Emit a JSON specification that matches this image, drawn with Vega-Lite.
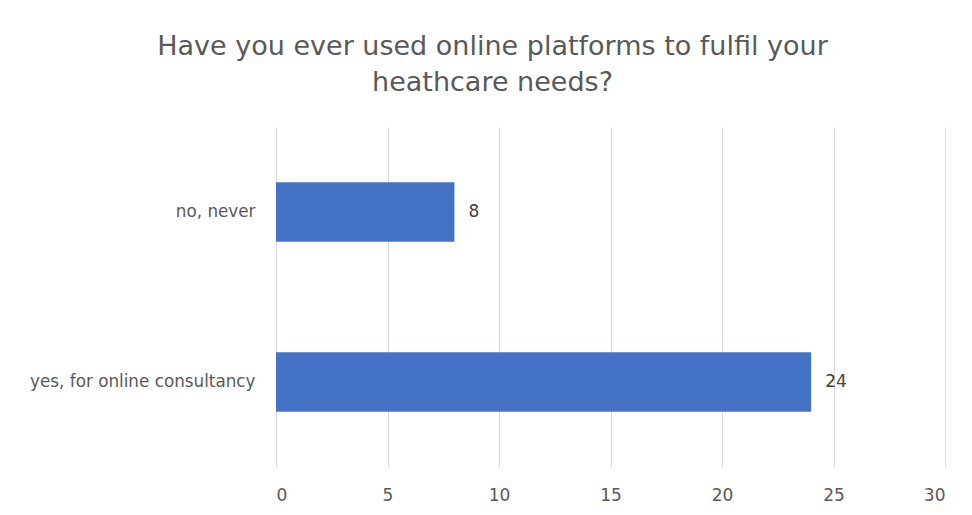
{
  "$schema": "https://vega.github.io/schema/vega-lite/v6.json",
  "width": 669,
  "height": 340,
  "autosize": {"type": "none"},
  "padding": {"left": 276, "top": 127, "right": 27, "bottom": 48},
  "background": "white",
  "config": {"view": {"stroke": null}, "font": "DejaVu Sans"},
  "title": {
    "text": ["Have you ever used online platforms to fulfil your", "heathcare needs?"],
    "anchor": "middle",
    "dx": -118,
    "offset": 30,
    "fontSize": 27,
    "fontWeight": "normal",
    "color": "#595959",
    "font": "DejaVu Sans",
    "lineHeight": 36
  },
  "data": {
    "values": [
      {"answer": "no, never", "count": 8},
      {"answer": "yes, for online consultancy", "count": 24}
    ]
  },
  "encoding": {
    "y": {
      "field": "answer",
      "type": "nominal",
      "sort": ["no, never", "yes, for online consultancy"],
      "scale": {"paddingInner": 0.65, "paddingOuter": 0.325},
      "axis": {
        "title": null,
        "domain": false,
        "ticks": false,
        "labelPadding": 21,
        "labelFontSize": 16.8,
        "labelColor": "#595959",
        "labelFont": "DejaVu Sans",
        "labelLimit": 300
      }
    },
    "x": {
      "field": "count",
      "type": "quantitative",
      "scale": {"domain": [0, 30]},
      "axis": {
        "title": null,
        "values": [0, 5, 10, 15, 20, 25, 30],
        "domain": false,
        "ticks": false,
        "grid": true,
        "gridColor": "#D9D9D9",
        "gridWidth": 1,
        "labelPadding": 20,
        "labelFontSize": 17,
        "labelColor": "#595959",
        "labelFont": "DejaVu Sans"
      }
    }
  },
  "layer": [
    {"mark": {"type": "bar", "color": "#4472C4"}},
    {
      "mark": {"type": "text", "align": "left", "dx": 14, "fontSize": 17, "color": "#404040", "font": "DejaVu Sans"},
      "encoding": {"text": {"field": "count", "type": "quantitative"}}
    }
  ]
}
